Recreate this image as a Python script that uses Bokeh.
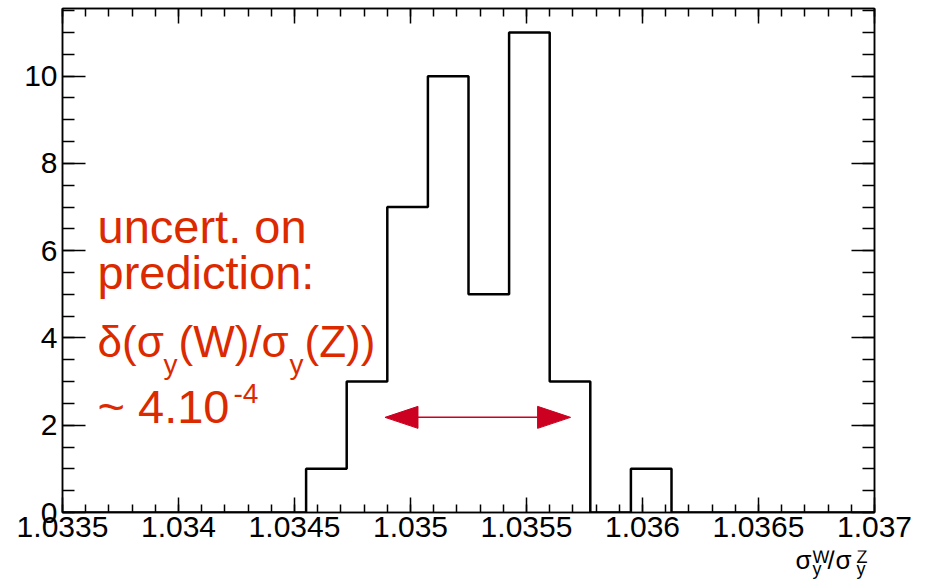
import numpy as np
from bokeh.plotting import figure
from bokeh.layouts import column
from bokeh.models import Range1d, LinearAxis, FixedTicker, Label
from bokeh.embed import file_html
from bokeh.resources import INLINE

# ---------------- data ----------------
X_LO, X_HI, N_BINS = 1.0335, 1.037, 20
COUNTS = [0, 0, 0, 0, 0, 0, 1, 3, 7, 10, 5, 11, 3, 0, 1, 0, 0, 0, 0, 0]
Y_MAX = 11.55
X_TICK_LABELS = ["1.0335", "1.034", "1.0345", "1.035", "1.0355", "1.036", "1.0365", "1.037"]
Y_TICKS = [0, 2, 4, 6, 8, 10]
ARROW_CENTER = 1.03529
ARROW_HALF = 0.0004
ARROW_Y = 2.18

RED = "#dc2a00"
ARROW_RED = "#cc0020"
FONT = "Liberation Sans"

# ---------------- main figure ----------------
W = 926
MAIN_H, TITLE_H = 550, 30
LEFT, RIGHT, TOP = 62, 52, 8
FRAME_BOTTOM = 512
BOTTOM = MAIN_H - FRAME_BOTTOM
FW, FH = W - LEFT - RIGHT, FRAME_BOTTOM - TOP

p = figure(width=W, height=MAIN_H, output_backend="svg", toolbar_location=None,
           x_range=Range1d(X_LO, X_HI), y_range=Range1d(0, Y_MAX),
           min_border_left=LEFT, min_border_right=RIGHT,
           min_border_top=TOP, min_border_bottom=BOTTOM)
p.grid.visible = False
p.background_fill_color = "white"
p.border_fill_color = "white"
p.outline_line_color = "black"
p.outline_line_width = 1.5

p.add_layout(LinearAxis(), "above")
p.add_layout(LinearAxis(), "right")

x_ticks = [float(s) for s in X_TICK_LABELS]
x_minor = [round(X_LO + 0.0001 * k, 6) for k in range(36)]
y_minor = [0.5 * k for k in range(24)]

for ax in p.xaxis:
    ax.ticker = FixedTicker(ticks=x_ticks, minor_ticks=x_minor)
    ax.major_tick_in, ax.major_tick_out = 15, 0
    ax.minor_tick_in, ax.minor_tick_out = 8, 0
for ax in p.yaxis:
    ax.ticker = FixedTicker(ticks=Y_TICKS, minor_ticks=y_minor)
    ax.major_tick_in, ax.major_tick_out = 23, 0
    ax.minor_tick_in, ax.minor_tick_out = 12, 0
for ax in list(p.xaxis) + list(p.yaxis):
    ax.axis_line_color = "black"
    ax.axis_line_width = 1.5
    ax.major_tick_line_color = "black"
    ax.major_tick_line_width = 1.5
    ax.minor_tick_line_color = "black"
    ax.minor_tick_line_width = 1.5
    ax.major_label_text_font = FONT
    ax.major_label_text_font_size = "30px"
    ax.major_label_text_color = "black"

p.below[0].major_label_overrides = {t: s for t, s in zip(x_ticks, X_TICK_LABELS)}
p.below[0].major_label_standoff = 4
p.left[0].major_label_standoff = 5
p.above[0].major_label_overrides = {t: "" for t in x_ticks}
p.above[0].major_label_standoff = 0
p.right[0].major_label_overrides = {t: "" for t in Y_TICKS}
p.right[0].major_label_standoff = 0

# ---------------- histogram outline ----------------
edges = np.linspace(X_LO, X_HI, N_BINS + 1)
xs, ys = [edges[0]], [0]
for i, c in enumerate(COUNTS):
    xs += [edges[i], edges[i + 1]]
    ys += [c, c]
xs.append(edges[-1])
ys.append(0)
p.line(xs, ys, line_color="black", line_width=2.5)

# ---------------- arrow ----------------
px_x = FW / (X_HI - X_LO)
px_y = FH / Y_MAX
head_len = 33 / px_x
head_hw = 11 / px_y
a0, a1 = ARROW_CENTER - ARROW_HALF, ARROW_CENTER + ARROW_HALF
p.segment(x0=[a0 + head_len], y0=[ARROW_Y], x1=[a1 - head_len], y1=[ARROW_Y],
          line_color=ARROW_RED, line_width=1.5)
p.patches(xs=[[a0, a0 + head_len, a0 + head_len], [a1, a1 - head_len, a1 - head_len]],
          ys=[[ARROW_Y, ARROW_Y + head_hw, ARROW_Y - head_hw],
              [ARROW_Y, ARROW_Y + head_hw, ARROW_Y - head_hw]],
          fill_color=ARROW_RED, line_color=ARROW_RED)

# ---------------- texts ----------------
BASE_SHIFT = 0.34  # rendered glyph baseline sits this many em below the anchor


def label(fig, text, sx, baseline, size, color, y_bottom):
    sy = baseline - BASE_SHIFT * size
    fig.add_layout(Label(x=sx - LEFT, y=y_bottom - sy, x_units="screen", y_units="screen",
                         text=text, text_font=FONT, text_font_size=f"{size}px",
                         text_color=color, text_baseline="alphabetic", text_align="left"))

BIG, MID, SMALL = 47, 44, 28
for txt, sx, sy, size in [("uncert. on", 97, 242, BIG),
                          ("prediction:", 97, 288, BIG),
                          ("δ(σ", 97, 356, MID),
                          ("y", 163, 374, SMALL),
                          ("(W)/σ", 178, 356, MID),
                          ("y", 289, 374, SMALL),
                          ("(Z))", 304, 356, MID),
                          ("~ 4.10", 97, 422, BIG),
                          ("-4", 233, 403, SMALL)]:
    label(p, txt, sx, sy, size, RED, FRAME_BOTTOM)

# ---------------- x-axis title strip: sigma_y^W / sigma_y^Z ----------------
t = figure(width=W, height=TITLE_H, output_backend="svg", toolbar_location=None,
           x_axis_location=None, y_axis_location=None,
           min_border_left=LEFT, min_border_right=RIGHT, min_border_top=0, min_border_bottom=0,
           x_range=Range1d(0, 1), y_range=Range1d(0, 1))
t.grid.visible = False
t.outline_line_color = None
t.background_fill_color = "white"
t.border_fill_color = "white"
for txt, sx, sy, size in [("σ", 795, 568, 26),
                          ("W", 812, 563, 18),
                          ("y", 812, 575, 18),
                          ("/", 827, 568, 26),
                          ("σ", 835, 568, 26),
                          ("Z", 856, 563, 18),
                          ("y", 856, 575, 18)]:
    label(t, txt, sx, sy - MAIN_H, size, "black", TITLE_H)

layout = column(p, t, spacing=0)
open("out.html", "w").write(file_html(layout, INLINE))
